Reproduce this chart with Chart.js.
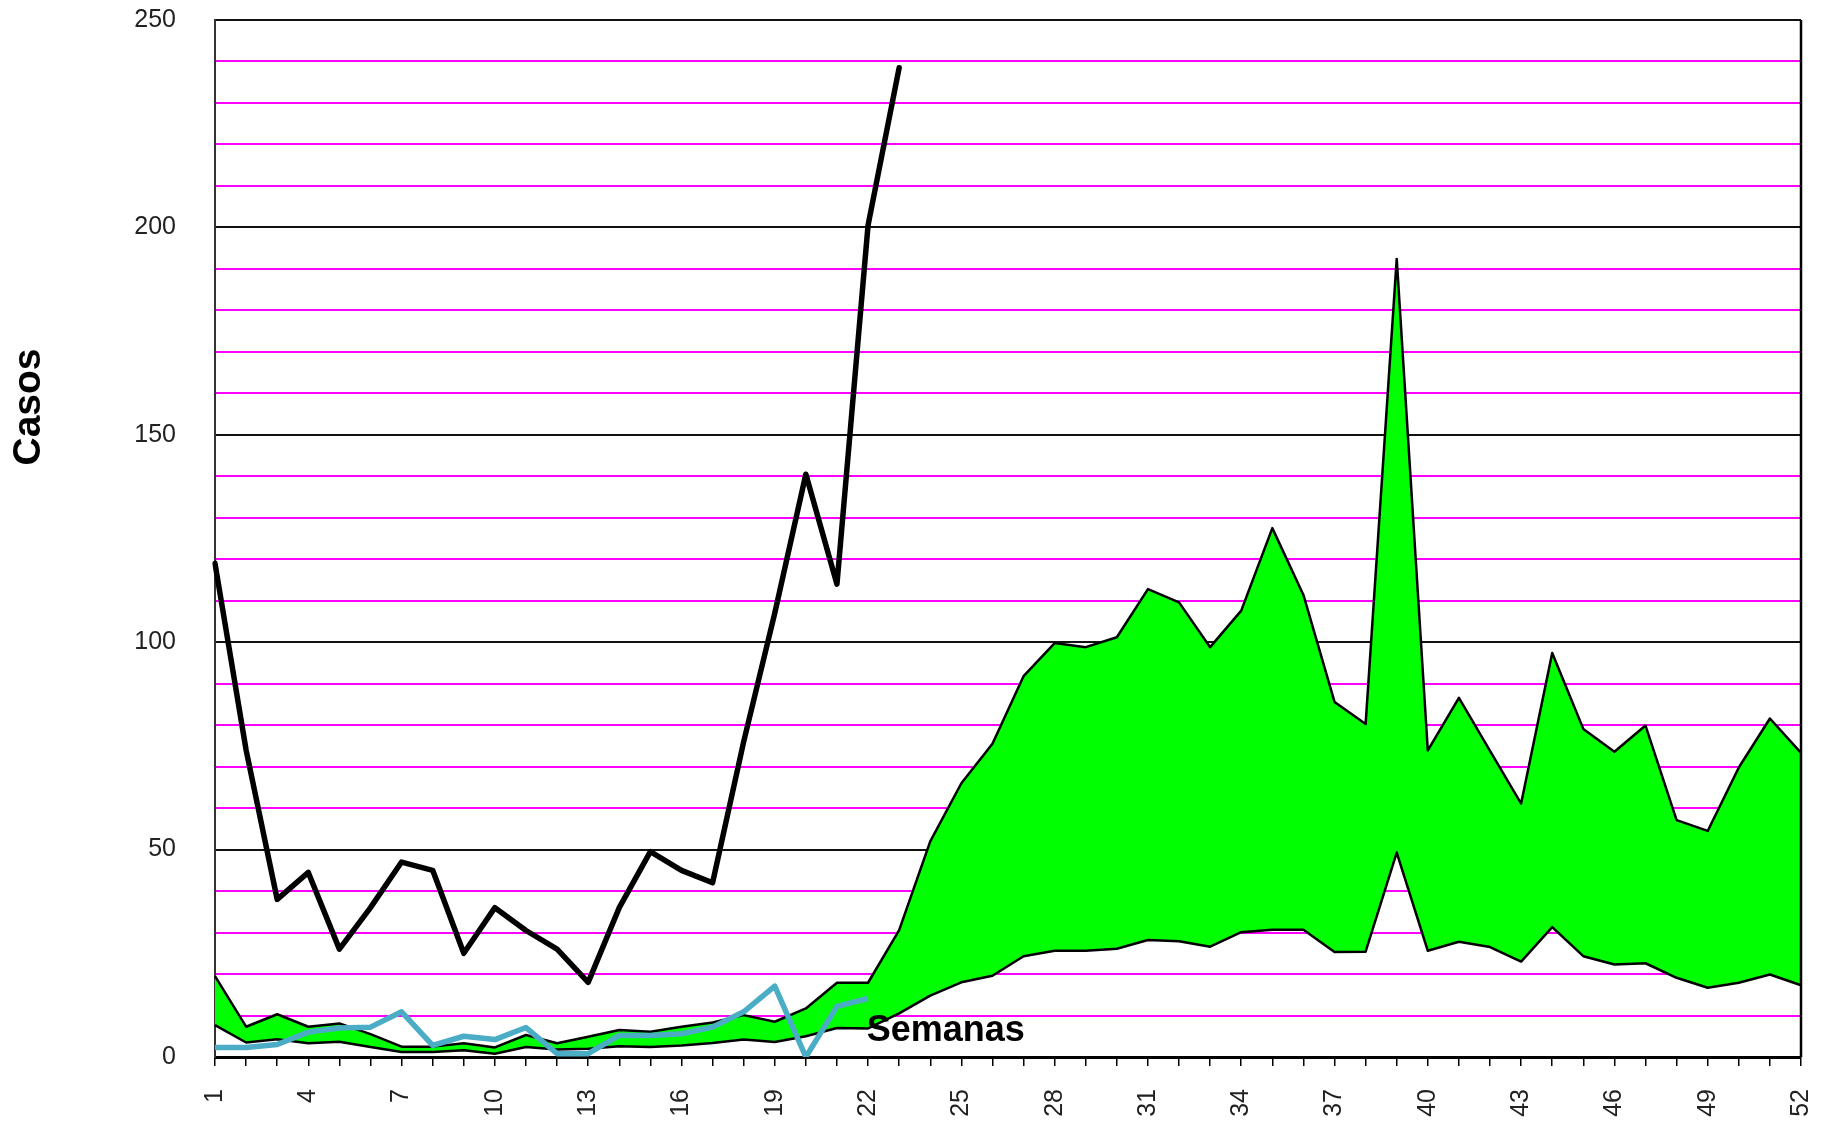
<!DOCTYPE html>
<html>
<head>
<meta charset="utf-8">
<script src="https://cdn.jsdelivr.net/npm/chart.js@4.4.1/dist/chart.umd.min.js"></script>
<style>
  html, body { margin: 0; padding: 0; background: #fff; }
  #wrap { width: 1831px; height: 1122px; }
</style>
</head>
<body>
<div id="wrap"><canvas id="c" width="1831" height="1122"></canvas></div>
<script>
// ---- data ----
const weeks = Array.from({length: 52}, (_, i) => String(i + 1));

// current year cases (thick black line), weeks 1-23
const casosActuales = [119, 74, 38, 44.5, 26, 36, 47, 45, 25, 36, 30.5, 26, 18, 36, 49.5, 45, 42, 76, 107, 140.5, 114, 200.5, 238.5];

// blue line, weeks 1-22
const serieAzul = [2.3, 2.3, 3.0, 6.0, 7.0, 7.2, 10.9, 2.8, 5.0, 4.2, 7.1, 0.8, 0.8, 5.2, 5.2, 5.6, 7.2, 10.9, 17.1, 0, 12.2, 14.1];

// upper limit of the green zone
const limiteSuperior = [19.5, 7.3, 10.3, 7.3, 8.1, 5.5, 2.5, 2.5, 3.3, 2.3, 5.3, 3.3, 4.9, 6.5, 6.1, 7.3, 8.3, 10.1, 8.5, 11.7, 17.9, 17.9, 30.6, 52, 66, 75.5, 91.8, 99.8, 98.8, 101.2, 112.8, 109.6, 98.8, 107.6, 127.5, 111.4, 85.6, 80.3, 192.4, 73.9, 86.6, 73.8, 61.1, 97.4, 79.1, 73.6, 79.9, 57.1, 54.5, 69.8, 81.6, 73.3];

// lower limit of the green zone
const limiteInferior = [7.7, 3.5, 4.3, 3.3, 3.7, 2.4, 1.2, 1.2, 1.6, 0.8, 2.4, 1.8, 2.0, 2.6, 2.4, 2.8, 3.4, 4.2, 3.6, 5.0, 7.0, 6.9, 10.5, 14.8, 18, 19.6, 24.3, 25.6, 25.6, 26.1, 28.2, 27.9, 26.6, 30.1, 30.7, 30.7, 25.3, 25.4, 49.3, 25.6, 27.8, 26.5, 23, 31.3, 24.3, 22.3, 22.6, 19.1, 16.7, 17.9, 19.9, 17.3];

const yTickLabels = [0, 50, 100, 150, 200, 250];
const yTitle = 'Casos';
const xTitle = 'Semanas';

// ---- plugins ----
const framePlugin = {
  id: 'frame',
  afterDatasetsDraw(chart) {
    const {ctx, chartArea: a, scales} = chart;
    ctx.save();
    ctx.strokeStyle = '#000';
    ctx.lineWidth = 2.5;
    ctx.beginPath();
    ctx.moveTo(a.right, a.top);
    ctx.lineTo(a.right, a.bottom);
    ctx.stroke();
    ctx.fillStyle = '#000';
    ctx.font = 'bold 36px "Liberation Sans", Arial, sans-serif';
    ctx.textAlign = 'center';
    ctx.textBaseline = 'alphabetic';
    ctx.fillText(xTitle, scales.x.getPixelForValue(23.5), scales.y.getPixelForValue(3.9));
    ctx.restore();
  },
  afterDraw(chart) {
    const {ctx} = chart;
    ctx.save();
    ctx.translate(29, 407);
    ctx.rotate(-Math.PI / 2);
    ctx.fillStyle = '#000';
    ctx.font = 'bold 39px "Liberation Sans", Arial, sans-serif';
    ctx.textAlign = 'center';
    ctx.textBaseline = 'middle';
    ctx.fillText(yTitle, 0, 0);
    ctx.restore();
  }
};

const tickFont = {family: '"Liberation Sans", Arial, sans-serif', size: 25};

new Chart(document.getElementById('c'), {
  type: 'line',
  data: {
    labels: weeks,
    datasets: [
      { label: 'Casos actuales', data: casosActuales, borderColor: '#000', borderWidth: 5.5, pointRadius: 0, tension: 0, fill: false, borderJoinStyle: 'round', borderCapStyle: 'round' },
      { label: 'Serie azul', data: serieAzul, borderColor: '#4BACC6', borderWidth: 5.5, pointRadius: 0, tension: 0, fill: false, borderJoinStyle: 'round' },
      { label: 'Límite superior', data: limiteSuperior, borderColor: '#000', borderWidth: 2.5, pointRadius: 0, tension: 0, fill: '+1', backgroundColor: '#00FF00', borderJoinStyle: 'round' },
      { label: 'Límite inferior', data: limiteInferior, borderColor: '#000', borderWidth: 2.5, pointRadius: 0, tension: 0, fill: false, borderJoinStyle: 'round' }
    ]
  },
  options: {
    responsive: false,
    animation: false,
    devicePixelRatio: 1,
    layout: {padding: {top: 20, right: 30, bottom: 0, left: 0}},
    plugins: {
      legend: {display: false},
      tooltip: {enabled: false},
      filler: {drawTime: 'beforeDatasetsDraw'}
    },
    scales: {
      x: {
        type: 'category',
        offset: false,
        afterFit(scale) { scale.height = 65; scale.paddingLeft = 0; scale.paddingRight = 0; },
        grid: { display: true, drawOnChartArea: false, drawTicks: true, tickLength: 9, color: '#000', lineWidth: 1.5 },
        border: {display: true, color: '#000', width: 3},
        ticks: {
          autoSkip: false, maxRotation: 90, minRotation: 90, padding: 23, color: '#222', font: tickFont,
          callback(val, idx) { return idx % 3 === 0 ? weeks[idx] : ''; }
        }
      },
      y: {
        min: 0,
        max: 250,
        afterFit(scale) { scale.width = 215; scale.paddingTop = 0; scale.paddingBottom = 0; },
        grid: {
          drawTicks: false,
          color(c) { return c.tick.value % 50 === 0 ? '#111' : '#FF00FF'; },
          lineWidth: 2
        },
        border: {display: true, color: '#333', width: 2},
        ticks: {
          stepSize: 10, autoSkip: false, padding: 39, color: '#222', font: tickFont,
          callback(v) { return yTickLabels.includes(v) ? String(v) : ''; }
        }
      }
    }
  },
  plugins: [framePlugin]
});
</script>
</body>
</html>
